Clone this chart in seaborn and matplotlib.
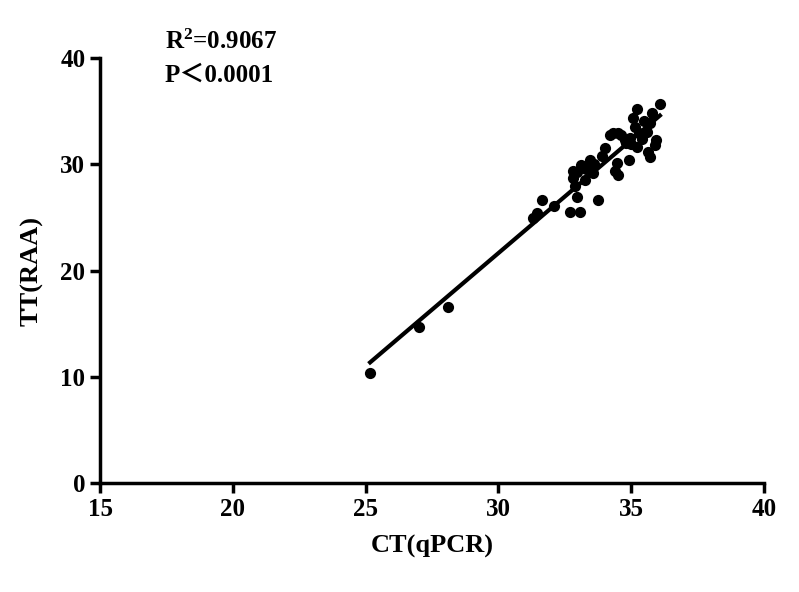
import matplotlib
matplotlib.use("Agg")
import matplotlib.pyplot as plt
import seaborn as sns
import pandas as pd

ct = [25.17, 27.0, 28.1, 36.08, 35.2, 35.07, 35.8, 35.7, 34.3, 34.95, 35.3, 35.9, 35.7, 35.2, 34.0,
      33.45, 34.45, 34.5, 32.8, 33.1, 33.55, 32.8, 32.95, 33.75, 31.65, 32.7, 33.07, 32.1, 31.45, 31.3,
      34.9, 34.4, 35.15, 35.5, 34.77, 32.9, 33.25, 35.6, 34.6, 33.9, 35.0, 35.4,
      34.5, 33.3, 32.95, 35.95, 35.65, 34.2, 33.6, 34.8]
tt = [10.35, 14.7, 16.6, 35.65, 35.2, 34.4, 34.8, 33.9, 32.9, 32.5, 32.9, 31.8, 30.7, 31.6, 31.5,
      30.4, 30.1, 29.0, 29.4, 29.9, 29.2, 28.7, 26.9, 26.6, 26.6, 25.5, 25.5, 26.1, 25.4, 24.9,
      30.4, 29.4, 33.5, 34.1, 32.3, 28.0, 28.5, 33.0, 32.8, 30.8, 31.9, 32.4,
      32.9, 29.6, 29.3, 32.3, 31.2, 32.8, 30.0, 32.0]
df = pd.DataFrame({"CT": ct, "TT": tt})

plt.rcParams["font.family"] = "Liberation Serif"
plt.rcParams["font.weight"] = "bold"
plt.rcParams["mathtext.default"] = "regular"
fig = plt.figure(figsize=(7.99, 5.92), dpi=100)
ax = fig.add_axes([100/799, 1-483/592, 664/799, 425/592])
sns.regplot(data=df, x="CT", y="TT", ci=None, ax=ax, color="black",
            scatter_kws={"s": 65, "alpha": 1, "linewidths": 0},
            line_kws={"linewidth": 3})
ax.set_xlim(15, 40)
ax.set_ylim(0, 40)
ax.set_xticks([15, 20, 25, 30, 35, 40])
ax.set_yticks([0, 10, 20, 30, 40])
for s in ["top", "right"]:
    ax.spines[s].set_visible(False)
for s in ["left", "bottom"]:
    ax.spines[s].set_linewidth(2.5)
ax.tick_params(width=2.5, length=7, labelsize=18)
for lab in ax.get_xticklabels() + ax.get_yticklabels():
    lab.set_fontweight("bold")
ax.set_xlabel("CT(qPCR)", fontsize=19, fontweight="bold", labelpad=10)
ax.set_ylabel("TT(RAA)", fontsize=19, fontweight="bold", labelpad=12)
fig.text(165/799, 1-42/592, "R$^{2}$=0.9067", fontsize=18, fontweight="bold", va="center")
fig.text(165/799, 1-75/592, "P\uff1c0.0001", fontsize=18, fontweight="bold", va="center",
         fontfamily=["Liberation Serif", "Noto Sans CJK SC"])
fig.savefig("out.png", dpi=100)
